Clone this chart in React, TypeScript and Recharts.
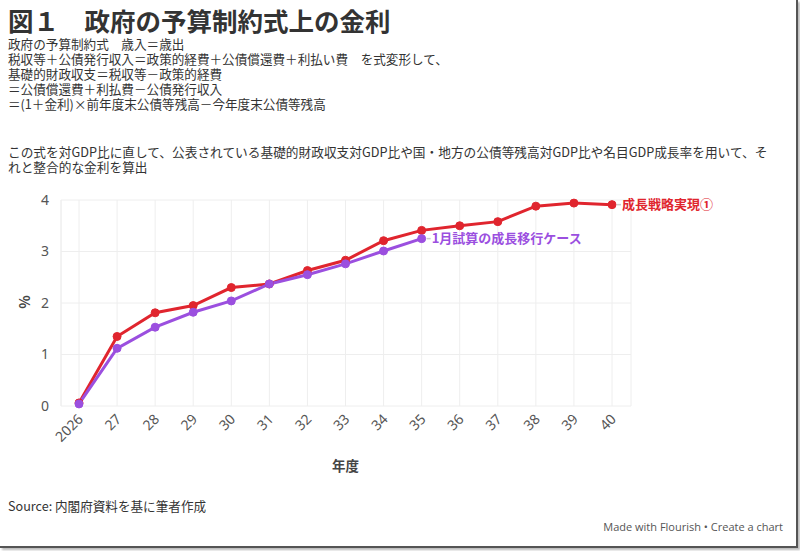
import { LineChart, Line, XAxis, YAxis, CartesianGrid, LabelList } from "recharts"

const years = ["2026", "27", "28", "29", "30", "31", "32", "33", "34", "35", "36", "37", "38", "39", "40"]
const growthStrategy = [0.06, 1.35, 1.81, 1.95, 2.3, 2.37, 2.63, 2.83, 3.21, 3.41, 3.5, 3.58, 3.88, 3.94, 3.91]
const janTransition = [0.04, 1.12, 1.53, 1.82, 2.04, 2.37, 2.55, 2.76, 3.01, 3.25]
const yTicks = [0, 1, 2, 3, 4]

const RED = "#e0252e"
const PURPLE = "#9b4fdf"
const FONT = "'Noto Sans CJK JP', 'Noto Sans', sans-serif"

const data = years.map((y, i) => ({
  year: y,
  red: growthStrategy[i],
  purple: i < janTransition.length ? janTransition[i] : null,
}))

const subtitle = [
  "政府の予算制約式　歳入＝歳出",
  "税収等＋公債発行収入＝政策的経費＋公債償還費＋利払い費　を式変形して、",
  "基礎的財政収支＝税収等－政策的経費",
  "＝公債償還費＋利払費－公債発行収入",
  "＝(1＋金利)×前年度末公債等残高－今年度末公債等残高",
]
const note = [
  "この式を対GDP比に直して、公表されている基礎的財政収支対GDP比や国・地方の公債等残高対GDP比や名目GDP成長率を用いて、そ",
  "れと整合的な金利を算出",
]

// draws "— label" after the last point of a series
const endLabel = (lastIndex: number, text: string, color: string) => (props: any) => {
  if (props.index !== lastIndex) return null
  const x = Number(props.x)
  const y = Number(props.y)
  return (
    <g>
      <line x1={x + 5} x2={x + 9} y1={y} y2={y} stroke="#ccc" strokeWidth={1.5} />
      <text x={x + 10} y={y} dy="0.35em" fill={color} fontSize={13} fontWeight={700} fontFamily={FONT}>
        {text}
      </text>
    </g>
  )
}

const XTick = (props: any) => {
  const { x, y, payload } = props
  return (
    <text
      x={x + 5}
      y={y + 6}
      textAnchor="end"
      transform={`rotate(-45 ${x + 5} ${y + 6})`}
      fill="#555"
      fontSize={14}
      fontFamily="'Noto Sans', sans-serif"
    >
      {payload.value}
    </text>
  )
}

export default function App() {
  return (
    <div style={{ position: "absolute", left: 0, top: 0, width: 800, height: 551, background: "#fff", fontFamily: FONT, color: "#333" }}>
      <div style={{ position: "absolute", left: 0, top: 0, width: 796, height: 546, borderRight: "2px solid #555", borderBottom: "2px solid #555", boxShadow: "2px 2px 2px #bbb" }} />
      <div style={{ position: "absolute", left: 8, top: 3, fontSize: 25.5, fontWeight: 700, lineHeight: "33px", whiteSpace: "pre" }}>
        図１　政府の予算制約式上の金利
      </div>
      <div style={{ position: "absolute", left: 8, top: 36, fontSize: 12.6, lineHeight: "15px", whiteSpace: "pre" }}>
        {subtitle.map((s) => (
          <div key={s}>{s}</div>
        ))}
      </div>
      <div style={{ position: "absolute", left: 8, top: 144, fontSize: 12.7, lineHeight: "15px", whiteSpace: "pre" }}>
        {note.map((s) => (
          <div key={s}>{s}</div>
        ))}
      </div>
      <div style={{ position: "absolute", left: 0, top: 0 }}>
        <LineChart width={800} height={551} data={data} margin={{ top: 200, right: 169, bottom: 105, left: 21 }}>
          <CartesianGrid stroke="#eee" />
          <XAxis
            dataKey="year"
            padding={{ left: 18, right: 19 }}
            height={40}
            tick={<XTick />}
            tickLine={false}
            axisLine={false}
            interval={0}
          />
          <YAxis
            domain={[0, 4]}
            ticks={yTicks}
            width={40}
            tickLine={false}
            axisLine={{ stroke: "#eee" }}
            tick={{ fill: "#555", fontSize: 14, fontFamily: "'Noto Sans', sans-serif" }}
            tickMargin={6}
          />
          <Line
            dataKey="red"
            stroke={RED}
            strokeWidth={3}
            dot={{ r: 4, fill: RED, stroke: RED, strokeWidth: 1 }}
            isAnimationActive={false}
          >
            <LabelList content={endLabel(growthStrategy.length - 1, "成長戦略実現①", RED)} />
          </Line>
          <Line
            dataKey="purple"
            stroke={PURPLE}
            strokeWidth={3}
            dot={{ r: 4, fill: PURPLE, stroke: PURPLE, strokeWidth: 1 }}
            connectNulls={false}
            isAnimationActive={false}
          >
            <LabelList content={endLabel(janTransition.length - 1, "1月試算の成長移行ケース", PURPLE)} />
          </Line>
        </LineChart>
      </div>
      <div style={{ position: "absolute", left: 17, top: 292, transform: "rotate(-90deg)", fontSize: 14, fontWeight: 700, color: "#444" }}>%</div>
      <div style={{ position: "absolute", left: 332, top: 455, fontSize: 13.5, fontWeight: 700, color: "#444" }}>年度</div>
      <div style={{ position: "absolute", left: 8, top: 496, fontSize: 12.6, whiteSpace: "pre" }}>Source: 内閣府資料を基に筆者作成</div>
      <div style={{ position: "absolute", right: 17, top: 519, fontSize: 11, color: "#555", fontFamily: "'Open Sans', sans-serif", whiteSpace: "pre" }}>
        Made with Flourish • Create a chart
      </div>
    </div>
  )
}
